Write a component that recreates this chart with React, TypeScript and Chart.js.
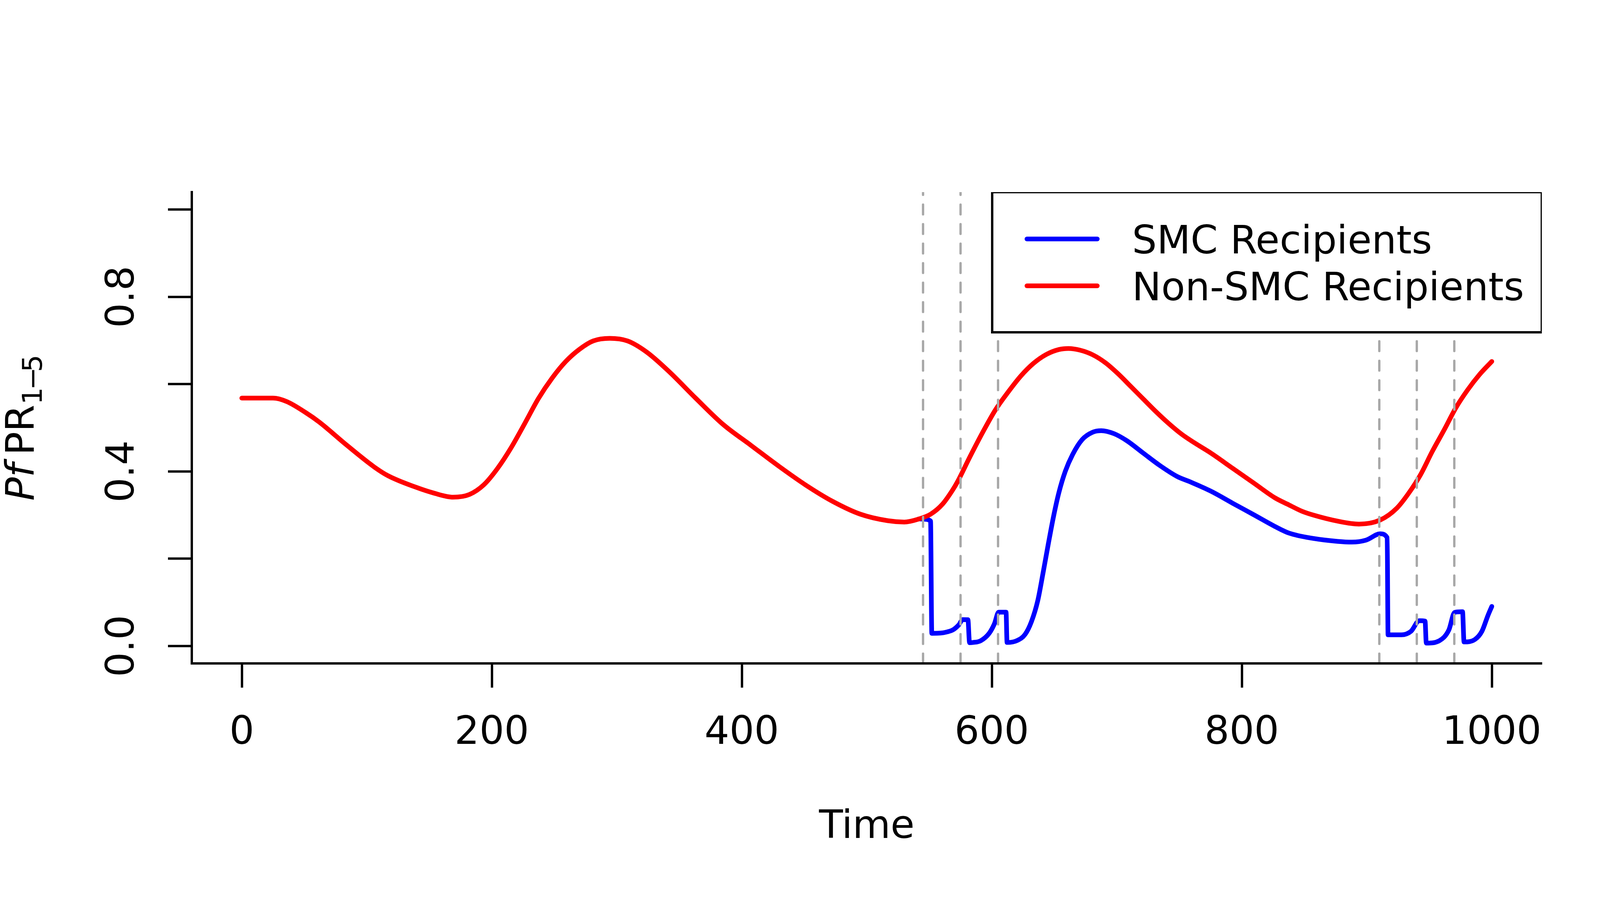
import React, { useEffect, useRef } from "react";
import { Chart, registerables } from "chart.js";

Chart.register(...registerables);

// ---------- data ----------
const nonSmcTime = [0, 25, 36, 51, 62, 84, 106, 117, 139, 154, 169, 182, 193.5, 204.5, 215.4, 226.4, 237.3, 248.3, 259.2, 270.2, 281.1, 294.3, 308.6, 323.9, 341.5, 363.4, 385.3, 407.2, 429.1, 451, 472.9, 494.8, 516.8, 530, 541.6, 551.1, 560.6, 568.6, 572.5, 582.6, 592.8, 602.9, 613.1, 623.2, 633.4, 643.6, 653.7, 661.3, 670.6, 680.8, 691, 701.1, 711.3, 721.4, 731.6, 741.7, 751.9, 762, 775.6, 792.5, 809.5, 826.4, 837.9, 848.3, 857.7, 876.7, 893.7, 910.7, 924, 933.5, 942.9, 952.4, 961.8, 971.3, 980.7, 990.2, 1000];
const nonSmcPfPR = [0.568, 0.568, 0.56, 0.535, 0.513, 0.46, 0.41, 0.39, 0.364, 0.35, 0.341, 0.347, 0.369, 0.4065, 0.454, 0.51, 0.567, 0.614, 0.652, 0.68, 0.699, 0.705, 0.699, 0.6735, 0.6296, 0.567, 0.507, 0.46, 0.413, 0.369, 0.331, 0.302, 0.287, 0.284, 0.291, 0.302, 0.325, 0.357, 0.376, 0.434, 0.49, 0.541, 0.582, 0.6186, 0.6477, 0.668, 0.6793, 0.6817, 0.6778, 0.6671, 0.6487, 0.6235, 0.5944, 0.5653, 0.5361, 0.5094, 0.4852, 0.4657, 0.4414, 0.4075, 0.3735, 0.3396, 0.323, 0.3085, 0.2995, 0.286, 0.2793, 0.2886, 0.3157, 0.35, 0.392, 0.4458, 0.4947, 0.546, 0.5869, 0.622, 0.652];

const smcTime = [541.6, 546, 551, 552, 559, 564, 569, 573.5, 576.8, 580.9, 582.2, 585, 591.1, 597.9, 602.1, 605.5, 611.4, 612.2, 619.9, 626.6, 631.7, 636.8, 641, 645.3, 649.5, 653.7, 658.8, 664.7, 672.3, 680.8, 687.6, 697.7, 707.9, 721.4, 735, 748.5, 758.7, 775.6, 792.5, 809.5, 826.4, 837.9, 857.7, 876.7, 888, 899.4, 910.7, 916.3, 917, 927.7, 935.4, 942, 946.6, 947.6, 958, 965.6, 970.3, 976.6, 977.8, 986.4, 992.1, 996.8, 1000];
const smcPfPR = [0.291, 0.2905, 0.2865, 0.029, 0.0295, 0.032, 0.037, 0.048, 0.0605, 0.0603, 0.0075, 0.008, 0.012, 0.029, 0.0508, 0.0775, 0.0775, 0.008, 0.012, 0.0265, 0.0557, 0.1042, 0.1672, 0.2352, 0.2983, 0.3518, 0.4002, 0.439, 0.473, 0.49, 0.4934, 0.4866, 0.4706, 0.4414, 0.4124, 0.388, 0.376, 0.3542, 0.3274, 0.3008, 0.274, 0.2585, 0.2462, 0.2397, 0.238, 0.2426, 0.257, 0.248, 0.0255, 0.0255, 0.0337, 0.058, 0.057, 0.0065, 0.012, 0.0363, 0.077, 0.0785, 0.0092, 0.0147, 0.0337, 0.069, 0.0906];

const smcRoundDays = [545, 575, 605, 910, 940, 970];
const xTickValues = [0, 200, 400, 600, 800, 1000];
const yTickValues = [0, 0.2, 0.4, 0.6, 0.8, 1.0];
const yLabelledTicks = [0, 0.4, 0.8];
const seriesNames = ["SMC Recipients", "Non-SMC Recipients"];
const seriesColors = ["#0000FF", "#FF0000"];
const xAxisTitle = "Time";

// ---------- layout / style ----------
const FONT = '"DejaVu Sans", "Liberation Sans", sans-serif';
const CANVAS_W = 4200;
const CANVAS_H = 2310;
const PLOT_LEFT = 491;
const PLOT_TOP = 492;
const PLOT_RIGHT = 3947;
const PLOT_BOTTOM = 1699;

const overlayPlugin = {
  id: "rOverlay",
  afterDatasetsDraw(chart: any) {
    const { ctx, chartArea: a, scales } = chart;
    const xs = scales.x;
    // dashed vertical lines at SMC rounds
    ctx.save();
    ctx.beginPath();
    ctx.rect(a.left, a.top, a.right - a.left, a.bottom - a.top - 3);
    ctx.clip();
    ctx.strokeStyle = "#A9A9A9";
    ctx.lineWidth = 6;
    ctx.lineCap = "round";
    ctx.setLineDash([25, 25]);
    for (const d of smcRoundDays) {
      const px = xs.getPixelForValue(d);
      ctx.beginPath();
      ctx.moveTo(px, a.bottom);
      ctx.lineTo(px, a.top);
      ctx.stroke();
    }
    ctx.restore();

    // legend (top right, clipped to plot region like R)
    const boxW = 1407;
    const boxH = 359;
    const bx = a.right - boxW;
    const by = a.top;
    ctx.save();
    ctx.beginPath();
    ctx.rect(a.left, a.top, a.right - a.left, a.bottom - a.top);
    ctx.clip();
    ctx.fillStyle = "#FFFFFF";
    ctx.fillRect(bx, by, boxW, boxH);
    ctx.strokeStyle = "#000000";
    ctx.lineWidth = 6;
    ctx.strokeRect(bx, by, boxW, boxH);
    ctx.lineCap = "round";
    ctx.lineWidth = 12;
    ctx.font = `100px ${FONT}`;
    ctx.textAlign = "left";
    ctx.textBaseline = "alphabetic";
    seriesNames.forEach((name, i) => {
      const ly = by + 120 * (i + 1);
      ctx.strokeStyle = seriesColors[i];
      ctx.beginPath();
      ctx.moveTo(bx + 89, ly);
      ctx.lineTo(bx + 269, ly);
      ctx.stroke();
      ctx.fillStyle = "#000000";
      ctx.fillText(name, bx + 358, ly + 36.5);
    });
    ctx.restore();
  },
  afterDraw(chart: any) {
    const { ctx, chartArea: a } = chart;
    const cy = (a.top + a.bottom) / 2;
    const fIt = `italic 100px ${FONT}`;
    const fMain = `100px ${FONT}`;
    const fSub = `70px ${FONT}`;
    ctx.save();
    ctx.font = fIt;
    const wIt = ctx.measureText("Pf").width;
    ctx.font = fMain;
    const wPR = ctx.measureText("PR").width;
    ctx.font = fSub;
    const w1 = ctx.measureText("1").width;
    const wm = ctx.measureText("\u2212").width;
    const w5 = ctx.measureText("5").width;
    const gapIt = 21;
    const minusX = w1 - 7;
    const fiveX = minusX + wm - 13;
    const total = wIt + gapIt + wPR + fiveX + w5;
    ctx.translate(86, cy + total / 2);
    ctx.rotate(-Math.PI / 2);
    ctx.fillStyle = "#000000";
    ctx.textAlign = "left";
    ctx.textBaseline = "alphabetic";
    ctx.font = fIt;
    ctx.fillText("Pf", 0, 0);
    ctx.font = fMain;
    ctx.fillText("PR", wIt + gapIt, 0);
    const sx = wIt + gapIt + wPR;
    ctx.font = fSub;
    ctx.fillText("1", sx, 21);
    ctx.fillText("\u2212", sx + minusX, 21);
    ctx.fillText("5", sx + fiveX, 21);
    ctx.restore();
  },
};

export default function App() {
  const canvasRef = useRef<HTMLCanvasElement | null>(null);

  useEffect(() => {
    const canvas = canvasRef.current;
    if (!canvas) return;
    const smcData = smcTime.map((t, i) => ({ x: t, y: smcPfPR[i] }));
    const nonData = nonSmcTime.map((t, i) => ({ x: t, y: nonSmcPfPR[i] }));

    const chart = new Chart(canvas, {
      type: "line",
      data: {
        datasets: [
          {
            label: seriesNames[0],
            data: smcData,
            borderColor: seriesColors[0],
            backgroundColor: seriesColors[0],
            borderWidth: 12,
            pointRadius: 0,
            cubicInterpolationMode: "monotone",
            borderCapStyle: "round",
            borderJoinStyle: "round",
            fill: false,
            order: 2,
          },
          {
            label: seriesNames[1],
            data: nonData,
            borderColor: seriesColors[1],
            backgroundColor: seriesColors[1],
            borderWidth: 12,
            pointRadius: 0,
            cubicInterpolationMode: "monotone",
            borderCapStyle: "round",
            borderJoinStyle: "round",
            fill: false,
            order: 1,
          },
        ],
      },
      options: {
        animation: false,
        responsive: false,
        maintainAspectRatio: false,
        devicePixelRatio: 1,
        events: [],
        layout: {
          padding: { left: 0, top: PLOT_TOP, right: CANVAS_W - PLOT_RIGHT, bottom: 0 },
        },
        plugins: {
          legend: { display: false },
          tooltip: { enabled: false },
          title: { display: false },
        },
        scales: {
          x: {
            type: "linear",
            min: -40,
            max: 1040,
            afterBuildTicks: (s: any) => {
              s.ticks = xTickValues.map((v) => ({ value: v }));
            },
            afterFit: (s: any) => {
              s.height = CANVAS_H - PLOT_BOTTOM;
            },
            grid: {
              display: true,
              drawOnChartArea: false,
              drawTicks: true,
              tickLength: 62,
              tickWidth: 6,
              tickColor: "#000000",
            },
            border: { display: true, color: "#000000", width: 6 },
            ticks: {
              autoSkip: false,
              minRotation: 0,
              maxRotation: 0,
              padding: 58,
              color: "#000000",
              font: { family: FONT, size: 100 },
              callback: (v: any) => String(v),
            },
            title: {
              display: true,
              text: xAxisTitle,
              color: "#000000",
              font: { family: FONT, size: 100 },
              padding: { top: 0, bottom: 130 },
            },
          },
          y: {
            type: "linear",
            min: -0.04,
            max: 1.04,
            afterBuildTicks: (s: any) => {
              s.ticks = yTickValues.map((v) => ({ value: v }));
            },
            afterFit: (s: any) => {
              s.width = PLOT_LEFT;
            },
            grid: {
              display: true,
              drawOnChartArea: false,
              drawTicks: true,
              tickLength: 61,
              tickWidth: 6,
              tickColor: "#000000",
            },
            border: { display: true, color: "#000000", width: 6 },
            ticks: {
              autoSkip: false,
              minRotation: 90,
              maxRotation: 90,
              crossAlign: "center",
              padding: 34,
              color: "#000000",
              font: { family: FONT, size: 100 },
              callback: (v: any) =>
                yLabelledTicks.some((t) => Math.abs(t - Number(v)) < 1e-9) ? Number(v).toFixed(1) : "",
            },
          },
        },
      },
      plugins: [overlayPlugin],
    } as any);

    return () => {
      chart.destroy();
    };
  }, []);

  return (
    <div
      style={{
        position: "absolute",
        left: 0,
        top: 0,
        width: CANVAS_W,
        height: CANVAS_H,
        background: "#FFFFFF",
      }}
    >
      <canvas
        ref={canvasRef}
        width={CANVAS_W}
        height={CANVAS_H}
        style={{ width: CANVAS_W, height: CANVAS_H, display: "block" }}
      />
    </div>
  );
}
